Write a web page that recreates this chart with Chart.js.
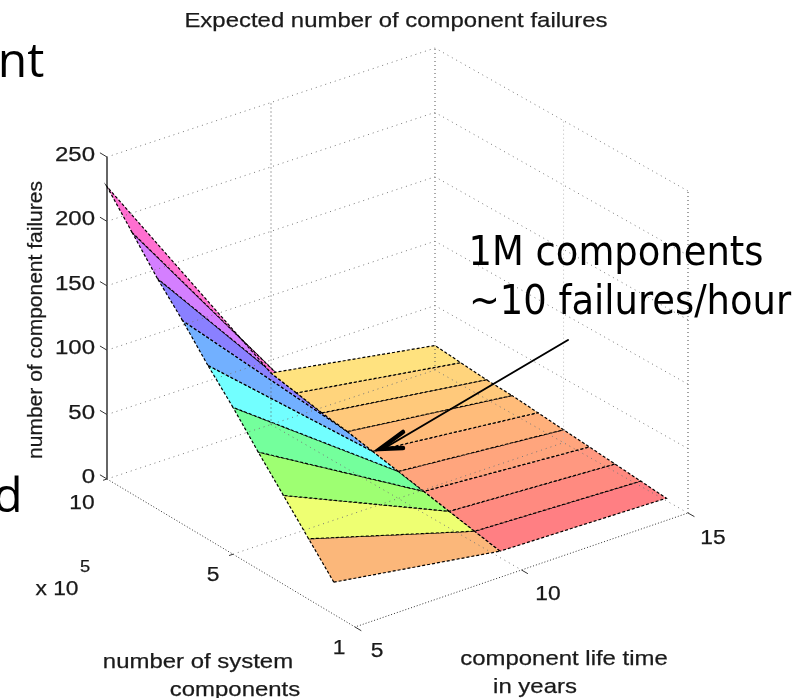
<!DOCTYPE html>
<html>
<head>
<meta charset="utf-8">
<title>Expected number of component failures</title>
<script src="https://cdn.jsdelivr.net/npm/chart.js@4/dist/chart.umd.min.js"></script>
<style>
  html, body { margin: 0; padding: 0; background: #fff; }
  #wrap { position: relative; width: 810px; height: 698px; overflow: hidden; filter: blur(0.4px); }
  canvas { display: block; }
  .t { position: absolute; white-space: nowrap; color: #1a1a1a; font-family: "Liberation Sans", sans-serif; line-height: 1; -webkit-text-stroke: 0.25px #1a1a1a; }
  .slide { -webkit-text-stroke: 0; }
</style>
</head>
<body>
<div id="wrap"><canvas id="surface" width="810" height="698"></canvas></div>
<script>
// number of system components, x 10^5
const components = [1, 2, 3, 4, 5, 6, 7, 8, 9, 10]
const lifeYears = [5, 10, 15]

// expected failures per component count, one list per life time
const failuresAt5 = [25, 47, 69, 91, 114, 135, 158, 179, 203, 227]
const failuresAt10 = [5, 9, 13, 17, 21, 25, 29, 32, 36, 40]
const failuresAt15 = [2, 4, 6, 8, 10, 12, 14, 15, 17, 19]

const failureTicks = [0, 50, 100, 150, 200, 250]
const componentTicks = [10, 5]
const componentTickLabels = ['10', '5', '1']
const lifeTicks = [5, 10, 15]

// facet colours, lowest component row first
const steepColors = ['#fbb77a', '#eeff72', '#9eff72', '#74ff9c', '#72ffff', '#72b0ff', '#8a80ff', '#d47fff', '#ff6fd0']
const flatColors = ['#ff7f83', '#ff8a80', '#ff9880', '#ffa57d', '#ffb07b', '#ffbc7a', '#ffc97b', '#ffd47c', '#ffe27f']

// front edge of the box sits a little below 1 on the drawn axis
const frontN = 0.16

// 3D box corners on screen, bilinear so the slight perspective is kept
const corner = {
  backLeft: [107, 479],
  front: [355, 627],
  right: [688, 513],
  back: [435, 370]
}
const zScale = 322 / 250

function project(n, life, z) {
  const u = (10 - n) / (10 - frontN)
  const v = (life - 5) / 10
  const c = corner
  const x = (1 - u) * (1 - v) * c.backLeft[0] + u * (1 - v) * c.front[0] + u * v * c.right[0] + (1 - u) * v * c.back[0]
  const y = (1 - u) * (1 - v) * c.backLeft[1] + u * (1 - v) * c.front[1] + u * v * c.right[1] + (1 - u) * v * c.back[1]
  return { x, y: y - z * zScale }
}

const line = (points, color, dash, width) => ({
  data: points,
  showLine: true,
  fill: false,
  borderColor: color,
  borderDash: dash,
  borderWidth: width || 1,
  pointRadius: 0,
  tension: 0,
  clip: false
})

const facet = (points, color) => ({
  data: [...points, points[0]],
  showLine: true,
  fill: 'shape',
  backgroundColor: color,
  borderColor: '#000',
  borderDash: [3, 2],
  borderWidth: 1.2,
  pointRadius: 0,
  tension: 0,
  clip: false
})

const datasets = []
const farGrid = '#777'
const nearGrid = '#333'

// back walls
failureTicks.forEach(z => {
  datasets.push(line([project(10, 5, z), project(10, 15, z), project(frontN, 15, z)], farGrid, [1, 4]))
})
datasets.push(line([project(10, 10, 0), project(10, 10, 250)], '#555', [1, 3]))
datasets.push(line([project(10, 15, 0), project(10, 15, 250)], '#555', [1, 3]))
datasets.push(line([project(5, 15, 0), project(5, 15, 250)], '#bbb', [1, 3]))
datasets.push(line([project(frontN, 15, 0), project(frontN, 15, 250)], '#444', [1, 3]))

// floor
datasets.push(line([project(10, 10, 0), project(frontN, 10, 0)], farGrid, [1, 4]))
datasets.push(line([project(5, 5, 0), project(5, 15, 0)], farGrid, [1, 4]))
datasets.push(line([project(10, 5, 0), project(frontN, 5, 0), project(frontN, 15, 0)], nearGrid, [1, 2]))

// ticks on the axes
failureTicks.forEach(z => {
  datasets.push(line([project(10, 5, z), project(10.28, 5, z)], nearGrid, []))
})
componentTicks.forEach(n => {
  datasets.push(line([project(n, 5, 0), project(n, 4.88, 0)], nearGrid, []))
})
lifeTicks.forEach(l => {
  datasets.push(line([project(frontN, l, 0), project(frontN - 0.25, l, 0)], nearGrid, []))
})

// surface, back rows first
for (let i = components.length - 2; i >= 0; i--) {
  const n0 = components[i], n1 = components[i + 1]
  datasets.push(facet([
    project(n0, lifeYears[1], failuresAt10[i]),
    project(n1, lifeYears[1], failuresAt10[i + 1]),
    project(n1, lifeYears[2], failuresAt15[i + 1]),
    project(n0, lifeYears[2], failuresAt15[i])
  ], flatColors[i]))
}
for (let i = components.length - 2; i >= 0; i--) {
  const n0 = components[i], n1 = components[i + 1]
  datasets.push(facet([
    project(n0, lifeYears[0], failuresAt5[i]),
    project(n1, lifeYears[0], failuresAt5[i + 1]),
    project(n1, lifeYears[1], failuresAt10[i + 1]),
    project(n0, lifeYears[1], failuresAt10[i])
  ], steepColors[i]))
}

// left z axis stays solid
datasets.push(line([project(10, 5, 0), project(10, 5, 250)], '#333', [], 1.5))

const arrowPlugin = {
  id: 'arrow',
  afterDraw(chart) {
    const ctx = chart.ctx
    ctx.save()
    ctx.strokeStyle = '#000'
    ctx.lineCap = 'round'
    ctx.lineWidth = 2
    ctx.beginPath()
    ctx.moveTo(568, 340)
    ctx.lineTo(383, 449)
    ctx.stroke()
    ctx.lineWidth = 4.5
    ctx.beginPath()
    ctx.moveTo(403, 432)
    ctx.lineTo(380, 449)
    ctx.lineTo(403, 448)
    ctx.stroke()
    ctx.restore()
  }
}

new Chart(document.getElementById('surface'), {
  type: 'scatter',
  data: { datasets },
  plugins: [arrowPlugin],
  options: {
    responsive: false,
    animation: false,
    layout: { padding: 0 },
    plugins: { legend: { display: false }, tooltip: { enabled: false } },
    scales: {
      x: { type: 'linear', display: false, min: 0, max: 810 },
      y: { type: 'linear', display: false, reverse: true, min: 0, max: 698 }
    }
  }
})

// all labels as page text over the canvas
const wrap = document.getElementById('wrap')
function label(text, cx, cy, size, extra) {
  const el = document.createElement('div')
  el.className = 't'
  el.textContent = text
  el.style.left = cx + 'px'
  el.style.top = cy + 'px'
  el.style.fontSize = size + 'px'
  el.style.transform = 'translate(-50%,-50%) ' + ((extra && extra.transform) || 'scaleX(1.14)')
  if (extra && extra.font) { el.style.fontFamily = extra.font; el.classList.add('slide') }
  if (extra && extra.color) el.style.color = extra.color
  wrap.appendChild(el)
  return el
}

label('Expected number of component failures', 396, 19, 21)
label('number of component failures', 35, 320, 20, { transform: 'rotate(-90deg) scaleX(1.05)' })
label('number of system', 198, 660, 21)
label('components', 235, 688, 21)
label('component life time', 564, 657, 21)
label('in years', 535, 685, 21)

failureTicks.forEach(z => {
  const p = project(10, 5, z)
  const el = label(String(z), p.x - 12, p.y - 3, 20)
  el.style.transform = 'translate(-100%,-50%) scaleX(1.2)'
  el.style.transformOrigin = 'right center'
})
label(componentTickLabels[0], 82, 502, 20)
label(componentTickLabels[1], 213, 574, 20)
label(componentTickLabels[2], 339, 647, 20)
label(String(lifeTicks[0]), 377, 650, 20)
label(String(lifeTicks[1]), 548, 593, 20)
label(String(lifeTicks[2]), 713, 537, 20)
label('x 10', 57, 588, 20)
label('5', 85, 567, 16)

const slideFont = '"DejaVu Sans Condensed", "DejaVu Sans", sans-serif'
label('1M components', 616, 251, 41, { font: slideFont, transform: 'scaleX(1)', color: '#000' })
label('~10 failures/hour', 630, 300, 41, { font: slideFont, transform: 'scaleX(1)', color: '#000' })
label('nt', 21, 59, 48, { font: '"Open Sans", sans-serif', transform: 'scaleX(1)', color: '#000' })
label('d', 8, 494, 48, { font: '"Open Sans", sans-serif', transform: 'scaleX(1)', color: '#000' })
</script>
</body>
</html>
